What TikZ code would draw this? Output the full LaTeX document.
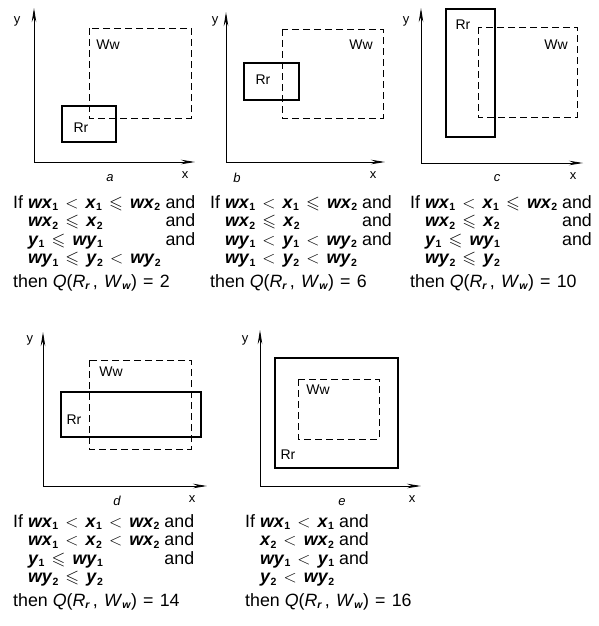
\documentclass[tikz,border=0pt]{standalone}
\usepackage{amssymb}
\usepackage{fontspec}
\setmainfont{Liberation Sans}
\usetikzlibrary{arrows.meta}
\newcommand{\V}[2]{\textbf{\textit{#1}}\raisebox{-0.3ex}{\fontsize{10.5}{10.5}\selectfont\textbf{#2}}}
\newcommand{\rlt}{\hspace{0.4em}$<$\hspace{0.4em}}
\newcommand{\rle}{\hspace{0.4em}$\leqslant$\hspace{0.4em}}
\newcommand{\Qv}[1]{then \textit{Q}(\textit{R}\raisebox{-0.3ex}{\fontsize{10.5}{10.5}\selectfont\textbf{\textit{r}}}\,,\hspace{0.35em}\textit{W}\raisebox{-0.3ex}{\fontsize{10.5}{10.5}\selectfont\textbf{\textit{w}}})\hspace{0.35em}=\hspace{0.35em}#1}
\tikzset{
  axis/.style={line width=0.8pt,-{Stealth[length=14pt,width=4.5pt]}},
  rbox/.style={draw,line width=1.4pt},
  wbox/.style={draw,line width=0.8pt,dash pattern=on 7pt off 4pt},
  axlbl/.style={inner sep=0pt,font=\fontsize{13}{13}\selectfont},
  plbl/.style={inner sep=0pt,font=\fontsize{13}{13}\selectfont\itshape},
  blbl/.style={inner sep=0pt,font=\fontsize{14}{14}\selectfont},
  cond/.style={anchor=north west,inner sep=0pt,font=\fontsize{17.8}{18.5}\selectfont}
}
\begin{document}
\begin{tikzpicture}[x=1pt,y=-1pt]
\useasboundingbox (0,0) rectangle (599,626);
% ---------- panel a
\coordinate (oa) at (34,162);
\coordinate (yta) at (34,8);
\coordinate (xea) at (195,162);
\draw[axis] (oa) -- (yta);
\draw[axis] (oa) -- (xea);
\node[axlbl] (ya) at (17,21) {y};
\node[axlbl] (xa) at (185,175) {x};
\node[plbl] (pa) at (110,178) {a};
\draw[wbox] (89,28) rectangle (191,118);
\draw[rbox] (62,106) rectangle (116,142);
\node[blbl] (wa) at (108,45) {Ww};
\node[blbl] (ra) at (81,128) {Rr};
% ---------- panel b
\coordinate (ob) at (226,162);
\coordinate (ytb) at (226,12);
\coordinate (xeb) at (385,162);
\draw[axis] (ob) -- (ytb);
\draw[axis] (ob) -- (xeb);
\node[axlbl] (yb) at (215,21) {y};
\node[axlbl] (xb) at (373,175) {x};
\node[plbl] (pb) at (237,178) {b};
\draw[wbox] (282,29) rectangle (383,118);
\draw[rbox] (244,63) rectangle (299,100);
\node[blbl] (wb) at (361,45) {Ww};
\node[blbl] (rb) at (263,80) {Rr};
% ---------- panel c
\coordinate (oc) at (421,163);
\coordinate (ytc) at (421,8);
\coordinate (xec) at (583,163);
\draw[axis] (oc) -- (ytc);
\draw[axis] (oc) -- (xec);
\node[axlbl] (yc) at (406,21) {y};
\node[axlbl] (xc) at (573,176) {x};
\node[plbl] (pc) at (497,178) {c};
\draw[wbox] (478,27) rectangle (577,117);
\draw[rbox] (446,9) rectangle (495,137);
\node[blbl] (wc) at (556,45) {Ww};
\node[blbl] (rc) at (463,25) {Rr};
% ---------- panel d
\coordinate (od) at (43,486);
\coordinate (ytd) at (43,332);
\coordinate (xed) at (207,486);
\draw[axis] (od) -- (ytd);
\draw[axis] (od) -- (xed);
\node[axlbl] (yd) at (30,340) {y};
\node[axlbl] (xd) at (192,499) {x};
\node[plbl] (pd) at (117,501) {d};
\draw[wbox] (89,360) rectangle (191,449);
\draw[rbox] (61,392) rectangle (201,437);
\node[blbl] (wd) at (111,372) {Ww};
\node[blbl] (rd) at (74,420) {Rr};
% ---------- panel e
\coordinate (oe) at (260,486);
\coordinate (yte) at (260,330);
\coordinate (xee) at (421,486);
\draw[axis] (oe) -- (yte);
\draw[axis] (oe) -- (xee);
\node[axlbl] (ye) at (245,340) {y};
\node[axlbl] (xe) at (412,499) {x};
\node[plbl] (pe) at (342,502) {e};
\draw[wbox] (298,379) rectangle (379,439);
\draw[rbox] (275,358) rectangle (398,468);
\node[blbl] (we) at (318,390) {Ww};
\node[blbl] (re) at (288,455) {Rr};
% ---------- conditions
\node[cond] (ta) at (13,195) {\begin{tabular}{@{}l@{ }l@{ }l@{}}
If & \V{wx}{1}\rlt\V{x}{1}\rle\V{wx}{2} & and\\
 & \V{wx}{2}\rle\V{x}{2} & and\\
 & \V{y}{1}\rle\V{wy}{1} & and\\
 & \V{wy}{1}\rle\V{y}{2}\rlt\V{wy}{2} & \\[5pt]
\multicolumn{3}{@{}l}{\Qv{2}}
\end{tabular}};
\node[cond] (tb) at (210,195) {\begin{tabular}{@{}l@{ }l@{ }l@{}}
If & \V{wx}{1}\rlt\V{x}{1}\rle\V{wx}{2} & and\\
 & \V{wx}{2}\rle\V{x}{2} & and\\
 & \V{wy}{1}\rlt\V{y}{1}\rlt\V{wy}{2} & and\\
 & \V{wy}{1}\rlt\V{y}{2}\rlt\V{wy}{2} & \\[5pt]
\multicolumn{3}{@{}l}{\Qv{6}}
\end{tabular}};
\node[cond] (tc) at (410,195) {\begin{tabular}{@{}l@{ }l@{ }l@{}}
If & \V{wx}{1}\rlt\V{x}{1}\rle\V{wx}{2} & and\\
 & \V{wx}{2}\rle\V{x}{2} & and\\
 & \V{y}{1}\rle\V{wy}{1} & and\\
 & \V{wy}{2}\rle\V{y}{2} & \\[5pt]
\multicolumn{3}{@{}l}{\Qv{10}}
\end{tabular}};
\node[cond] (td) at (13,514) {\begin{tabular}{@{}l@{ }l@{ }l@{}}
If & \V{wx}{1}\rlt\V{x}{1}\rlt\V{wx}{2} & and\\
 & \V{wx}{1}\rlt\V{x}{2}\rlt\V{wx}{2} & and\\
 & \V{y}{1}\rle\V{wy}{1} & and\\
 & \V{wy}{2}\rle\V{y}{2} & \\[5pt]
\multicolumn{3}{@{}l}{\Qv{14}}
\end{tabular}};
\node[cond] (te) at (245,514) {\begin{tabular}{@{}l@{ }l@{ }l@{}}
If & \V{wx}{1}\rlt\V{x}{1} & and\\
 & \V{x}{2}\rlt\V{wx}{2} & and\\
 & \V{wy}{1}\rlt\V{y}{1} & and\\
 & \V{y}{2}\rlt\V{wy}{2} & \\[5pt]
\multicolumn{3}{@{}l}{\Qv{16}}
\end{tabular}};
\end{tikzpicture}
\end{document}
